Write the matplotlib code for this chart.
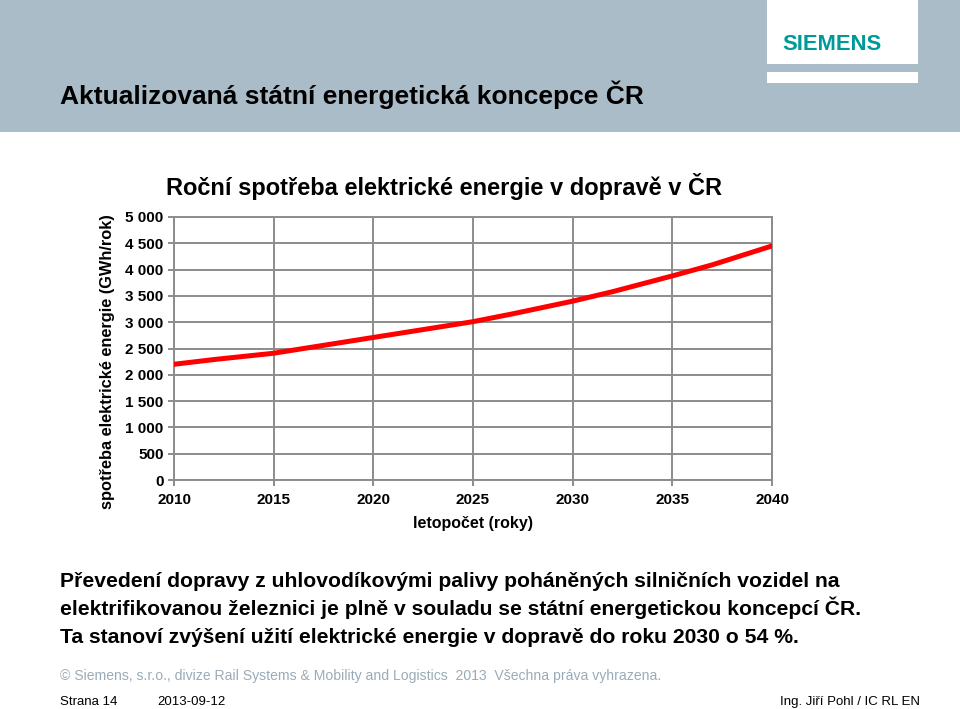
import matplotlib.pyplot as plt
import matplotlib.patches as patches
from matplotlib.ticker import FuncFormatter

plt.rcParams['font.family'] = ['Liberation Sans', 'DejaVu Sans']

# data
roky = [2010, 2012, 2015, 2017, 2020, 2022, 2025, 2027, 2030, 2032, 2035, 2037, 2040]
spotreba = [2200, 2290, 2410, 2530, 2710, 2830, 3010, 3160, 3400, 3580, 3880, 4090, 4450]
x_ticks = [2010, 2015, 2020, 2025, 2030, 2035, 2040]
y_ticks = [0, 500, 1000, 1500, 2000, 2500, 3000, 3500, 4000, 4500, 5000]

W, H = 960, 709
fig = plt.figure(figsize=(9.6, 7.09), dpi=100)

def fx(px):
    return px / W

def fy(py):
    return 1 - py / H

# header band
fig.patches.append(patches.Rectangle((0, fy(132)), 1, 132 / H, transform=fig.transFigure,
                                     facecolor='#abbcc9', edgecolor='none', zorder=0))
# logo box
fig.patches.append(patches.Rectangle((fx(767), fy(64)), fx(151), 64 / H, transform=fig.transFigure,
                                     facecolor='white', edgecolor='none', zorder=1))
fig.patches.append(patches.Rectangle((fx(767), fy(83)), fx(151), 11 / H, transform=fig.transFigure,
                                     facecolor='white', edgecolor='none', zorder=1))
fig.text(fx(782), fy(44), 'SIEMENS', color='#009999', fontsize=15.8, fontweight='heavy',
         va='center', ha='left')
fig.text(fx(60), fy(104), 'Aktualizovaná státní energetická koncepce ČR', fontsize=19,
         fontweight='bold', va='baseline', ha='left')

# chart
ax = fig.add_axes([fx(174), fy(480), fx(598), 263 / H])
ax.plot(roky, spotreba, color='#ff0000', linewidth=3.6, solid_capstyle='round', zorder=3)
ax.set_xlim(2010, 2040)
ax.set_ylim(0, 5000)
ax.set_xticks(x_ticks)
ax.set_yticks(y_ticks)
ax.yaxis.set_major_formatter(FuncFormatter(lambda v, p: f'{int(v):,}'.replace(',', ' ')))
ax.grid(True, color='#8c8c8c', linewidth=1.4)
ax.set_axisbelow(True)
for s in ax.spines.values():
    s.set_color('#8c8c8c')
    s.set_linewidth(1.4)
ax.tick_params(length=4, color='#8c8c8c', width=1.4, labelsize=11)
ax.tick_params(axis='x', pad=5)
for lab in ax.get_xticklabels() + ax.get_yticklabels():
    lab.set_fontweight('bold')
ax.set_xlabel('letopočet (roky)', fontsize=11.5, fontweight='bold')
ax.xaxis.set_label_coords(0.5, -0.135)
ax.set_ylabel('spotřeba elektrické energie (GWh/rok)', fontsize=11.8, fontweight='bold')
ax.yaxis.set_label_coords(-0.098, 0.45)
fig.text(fx(444), fy(187), 'Roční spotřeba elektrické energie v dopravě v ČR', fontsize=17,
         fontweight='bold', ha='center', va='center')

# body text
radky = ['Převedení dopravy z uhlovodíkovými palivy poháněných silničních vozidel na',
         'elektrifikovanou železnici je plně v souladu se státní energetickou koncepcí ČR.',
         'Ta stanoví zvýšení užití elektrické energie v dopravě do roku 2030 o 54 %.']
for i, r in enumerate(radky):
    fig.text(fx(60), fy(587 + 28 * i), r, fontsize=15.2, fontweight='bold', va='baseline', ha='left')

# footer
fig.text(fx(60), fy(680), '© Siemens, s.r.o., divize Rail Systems & Mobility and Logistics  2013  Všechna práva vyhrazena.',
         fontsize=10.1, color='#9aabb8', va='baseline', ha='left')
fig.text(fx(60), fy(705), 'Strana 14', fontsize=9.5, va='baseline', ha='left')
fig.text(fx(157), fy(705), '2013-09-12', fontsize=9.5, va='baseline', ha='left')
fig.text(fx(920), fy(705), 'Ing. Jiří Pohl / IC RL EN', fontsize=9.5, va='baseline', ha='right')

fig.savefig('out.png', dpi=100)
